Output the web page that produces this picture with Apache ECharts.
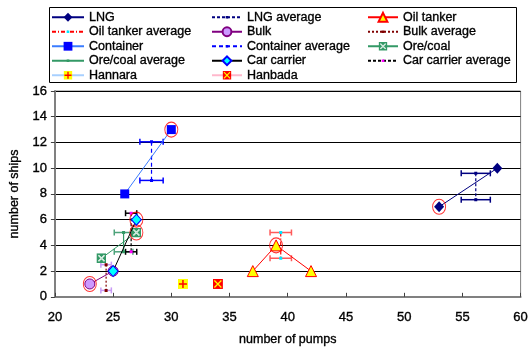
<!DOCTYPE html>
<html>
<head>
<meta charset="utf-8">
<script src="https://cdn.jsdelivr.net/npm/echarts@6/dist/echarts.min.js"></script>
<style>
  html, body { margin: 0; padding: 0; background: #fff; }
  #chart { width: 531px; height: 351px; }
</style>
</head>
<body>
<div id="chart"></div>
<script>
// ---- data ----
const xTickValues = [20, 25, 30, 35, 40, 45, 50, 55, 60];
const yTickValues = [0, 2, 4, 6, 8, 10, 12, 14, 16];

const lngPoints        = [[53, 7], [58, 10]];
const oilTankerPoints  = [[37, 2], [39, 4], [42, 2]];
const bulkPoints       = [[23, 1], [25, 2]];
const containerPoints  = [[26, 8], [30, 13]];
const oreCoalPoints    = [[24, 3], [27, 5]];
const carCarrierPoints = [[25, 2], [27, 6]];
const hannaraPoints    = [[31, 1]];
const hanbadaPoints    = [[34, 1]];

const lngAverage        = [[56.15, 9.6], [56.15, 7.55]];
const lngAverageXErr    = 1.25;
const oilTankerAverage  = [[39.4, 5], [39.4, 3]];
const oilTankerAverageXErr = 0.92;
const bulkAverage       = [[24.4, 2.5], [24.4, 0.5]];
const bulkAverageXErr   = 0.45;
const containerAverage  = [[28.3, 12.05], [28.3, 9.05]];
const containerAverageXErr = 1.0;
const oreCoalAverage    = [[25.9, 5], [25.9, 3.5]];
const oreCoalAverageXErr = 0.8;
const carCarrierAverage = [[26.55, 6.5], [26.55, 3.5]];
const carCarrierAverageXErr = 0.48;

const highlighted = [[53, 7], [30, 13], [27, 6], [27, 5], [23, 1], [39, 4]];

const legendCol1 = ['LNG', 'Oil tanker average', 'Container', 'Ore/coal average', 'Hannara'];
const legendCol2 = ['LNG average', 'Bulk', 'Container average', 'Car carrier', 'Hanbada'];
const legendCol3 = ['Oil tanker', 'Bulk average', 'Ore/coal', 'Car carrier average'];

// ---- styling helpers ----
const FONT = 'Liberation Sans, Arial, sans-serif';
const TEXT_BOLDEN = { textBorderColor: '#000', textBorderWidth: 0.35 };
function svgSymbol(svg) {
  return 'image://data:image/svg+xml;charset=utf-8,' + encodeURIComponent(svg);
}
const oreCoalSymbol = svgSymbol("<svg xmlns='http://www.w3.org/2000/svg' width='20' height='20'><rect x='0' y='0' width='20' height='20' fill='#339966'/><path d='M4 4L16 16M16 4L4 16' stroke='#ffffff' stroke-width='3'/><path d='M4 4L16 16M16 4L4 16' stroke='#99ccb0' stroke-width='1'/></svg>");
const hannaraSymbol = svgSymbol("<svg xmlns='http://www.w3.org/2000/svg' width='20' height='20'><rect x='0' y='0' width='20' height='20' fill='#ffff00'/><path d='M10 2V18M2 10H18' stroke='#ff0000' stroke-width='3'/></svg>");
const hanbadaSymbol = svgSymbol("<svg xmlns='http://www.w3.org/2000/svg' width='20' height='20'><rect x='0' y='0' width='20' height='20' fill='#ff0000'/><path d='M3 3L17 17M17 3L3 17' stroke='#ffff00' stroke-width='2.5'/></svg>");
// tiny centred dot inside a larger (empty) box so that it stays small in the legend too
const tinyDot = 'path://M0 0Z M20 20Z M7 7H13V13H7Z';

function mainSeries(name, data, symbol, size, fill, border, lineColor, z) {
  return {
    name: name, type: 'line', data: data,
    symbol: symbol, symbolSize: size, showSymbol: true,
    itemStyle: { color: fill, borderColor: border, borderWidth: border ? 1 : 0, opacity: 1 },
    lineStyle: { color: lineColor, width: 1 },
    z: z || 5
  };
}
function avgSeries(name, data, lineColor, dash, markColor) {
  return {
    name: name, type: 'line', data: data,
    symbol: tinyDot, symbolSize: 10, showSymbol: true,
    itemStyle: { color: markColor, borderWidth: 0 },
    lineStyle: { color: lineColor, width: 1.2, type: dash },
    z: 3
  };
}
function errSeries(name, data, xErr, color) {
  return {
    name: name, type: 'custom', z: 3, silent: true,
    data: data.map(function (p) { return [p[0], p[1], xErr]; }),
    renderItem: function (params, api) {
      const x = api.value(0), y = api.value(1), e = api.value(2);
      const a = api.coord([x - e, y]);
      const b = api.coord([x + e, y]);
      const c = 3;
      const st = { stroke: color, lineWidth: 1.5 };
      return {
        type: 'group',
        children: [
          { type: 'line', shape: { x1: a[0], y1: a[1], x2: b[0], y2: b[1] }, style: st },
          { type: 'line', shape: { x1: a[0], y1: a[1] - c, x2: a[0], y2: a[1] + c }, style: st },
          { type: 'line', shape: { x1: b[0], y1: b[1] - c, x2: b[0], y2: b[1] + c }, style: st }
        ]
      };
    }
  };
}

const series = [
  {
    name: 'highlight', type: 'scatter', data: highlighted,
    symbol: 'circle', symbolSize: [13, 15], silent: true,
    itemStyle: { color: 'rgba(0,0,0,0)', borderColor: '#ff0000', borderWidth: 1 },
    z: 6
  },
  errSeries('lngErr', lngAverage, lngAverageXErr, '#000080'),
  errSeries('oilErr', oilTankerAverage, oilTankerAverageXErr, '#ff5a5a'),
  errSeries('bulkErr', bulkAverage, bulkAverageXErr, '#c89bf5'),
  errSeries('containerErr', containerAverage, containerAverageXErr, '#0000ff'),
  errSeries('oreErr', oreCoalAverage, oreCoalAverageXErr, '#4ca37a'),
  errSeries('carErr', carCarrierAverage, carCarrierAverageXErr, '#000000'),
  avgSeries('LNG average', lngAverage, '#000080', [3, 2], '#000080'),
  avgSeries('Oil tanker average', oilTankerAverage, '#ff0000', [4, 2, 1, 2], '#00e5ff'),
  avgSeries('Bulk average', bulkAverage, '#800000', [2, 2], '#800000'),
  avgSeries('Container average', containerAverage, '#0000ff', [4, 3], '#0000ff'),
  avgSeries('Ore/coal average', oreCoalAverage, '#339966', 'solid', '#339966'),
  avgSeries('Car carrier average', carCarrierAverage, '#000000', [3, 2], '#ff00ff'),
  mainSeries('LNG', lngPoints, 'diamond', [10, 11], '#000080', null, '#000080'),
  mainSeries('Oil tanker', oilTankerPoints, 'triangle', 11, '#ffff00', '#ff0000', '#ff0000'),
  mainSeries('Bulk', bulkPoints, 'circle', 10, '#cc99ff', '#800080', '#800080'),
  mainSeries('Container', containerPoints, 'rect', 9, '#0000ff', null, '#3a7cff'),
  mainSeries('Ore/coal', oreCoalPoints, oreCoalSymbol, 10, '#339966', null, '#339966'),
  mainSeries('Car carrier', carCarrierPoints, 'diamond', [10, 11], '#00ffff', '#0000ff', '#000000', 7),
  mainSeries('Hannara', hannaraPoints, hannaraSymbol, 10, '#ffff00', null, '#a8d0ff'),
  mainSeries('Hanbada', hanbadaPoints, hanbadaSymbol, 10, '#ff0000', null, '#ffb8cc')
];

function legendCol(names, left, itemWidth) {
  return {
    data: names, orient: 'vertical', left: left, top: 10,
    itemWidth: itemWidth, itemHeight: 11, itemGap: 0,
    padding: 0, selectedMode: false,
    textStyle: Object.assign({ fontFamily: FONT, fontSize: 12.5, color: '#000', lineHeight: 14.5 }, TEXT_BOLDEN)
  };
}

const chart = echarts.init(document.getElementById('chart'), null, { renderer: 'canvas' });
chart.setOption({
  animation: false,
  backgroundColor: '#ffffff',
  grid: { left: 51, right: 9, top: 91, bottom: 49, show: true, borderColor: '#808080', borderWidth: 1, backgroundColor: 'transparent' },
  legend: [
    legendCol(legendCol1, 51, 32),
    legendCol(legendCol2, 211, 30),
    legendCol(legendCol3, 367, 30)
  ],
  graphic: [
    { type: 'rect', shape: { x: 49.5, y: 7.5, width: 467, height: 75 }, style: { fill: 'none', stroke: '#000', lineWidth: 1 }, z: -1, silent: true }
  ],
  xAxis: {
    type: 'value',
    min: xTickValues[0], max: xTickValues[xTickValues.length - 1],
    interval: xTickValues[1] - xTickValues[0],
    name: 'number of pumps', nameLocation: 'middle', nameGap: 36,
    nameTextStyle: Object.assign({ fontFamily: FONT, fontSize: 12.5, color: '#000' }, TEXT_BOLDEN),
    axisLine: { show: true, onZero: false, lineStyle: { color: '#808080', width: 2 } },
    axisTick: { show: true, inside: true, length: 4, lineStyle: { color: '#404040', width: 1 } },
    axisLabel: Object.assign({ fontFamily: FONT, fontSize: 13, color: '#000', margin: 14 }, TEXT_BOLDEN),
    splitLine: { show: false }
  },
  yAxis: {
    type: 'value',
    min: yTickValues[0], max: yTickValues[yTickValues.length - 1],
    interval: yTickValues[1] - yTickValues[0],
    name: 'number of ships', nameLocation: 'middle', nameGap: 26,
    nameTextStyle: Object.assign({ fontFamily: FONT, fontSize: 12.5, color: '#000' }, TEXT_BOLDEN),
    axisLine: { show: true, onZero: false, lineStyle: { color: '#808080', width: 2 } },
    axisTick: { show: true, inside: false, length: 4, lineStyle: { color: '#404040', width: 1 } },
    axisLabel: Object.assign({ fontFamily: FONT, fontSize: 13, color: '#000', margin: 8 }, TEXT_BOLDEN),
    splitLine: { show: true, lineStyle: { color: '#000', width: 1 } }
  },
  series: series
});
</script>
</body>
</html>
